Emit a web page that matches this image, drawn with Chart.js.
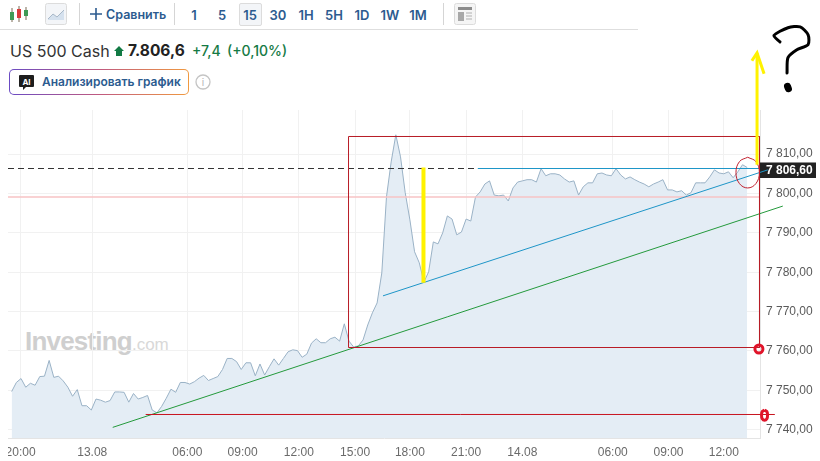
<!DOCTYPE html>
<html><head><meta charset="utf-8">
<script src="https://cdn.jsdelivr.net/npm/chart.js@4"></script>
<style>
html,body{margin:0;padding:0;background:#fff;width:820px;height:461px;overflow:hidden}
body{position:relative;font-family:Inter,"Liberation Sans",sans-serif}
.a{position:absolute;white-space:nowrap}
.t{top:7px;font-size:13px;font-weight:600;color:#2c5b8f;line-height:16px;transform:translateX(-50%)}
.sep{top:3px;width:1px;height:22px;background:#d5d5d5}
canvas{position:absolute;left:8px;top:0}
</style></head><body>
<div class="a" style="left:0;top:29px;width:638px;height:1px;background:#dedede"></div>
<svg class="a" style="left:9px;top:5px" width="20" height="18"><g stroke-width="1"><path d="M3 3v14M10 1v16M17 2v13" stroke="#7a6a55" fill="none"/><rect x="1" y="7" width="4" height="8" fill="#3f9a55"/><rect x="8" y="4" width="4" height="9" fill="#d83a3a"/><rect x="15" y="5" width="4" height="6" fill="#3f9a55"/></g></svg>
<svg class="a" style="left:45px;top:3px" width="22" height="22"><rect x=".5" y=".5" width="21" height="21" rx="2" fill="#f3f5f8" stroke="#dcdcdc"/><path d="M3 16l5-5 4 3 7-7v10H3z" fill="#d5e1ee"/><path d="M3 16l5-5 4 3 7-7" fill="none" stroke="#a8b8c8"/></svg>
<div class="a sep" style="left:79px"></div>
<svg class="a" style="left:90px;top:8px" width="12" height="12"><path d="M6 0v12M0 6h12" stroke="#2c5b8f" stroke-width="1.6"/></svg>
<div class="a" style="left:106px;top:7px;font-size:12.5px;font-weight:600;color:#2c5b8f;line-height:16px">Сравнить</div>
<div class="a sep" style="left:174px"></div>
<div class="a" style="left:239px;top:3px;width:21px;height:21px;background:#f3f5f8;border:1px solid #dcdcdc;border-radius:2px"></div>
<div class="a t" style="left:194px">1</div><div class="a t" style="left:222px">5</div><div class="a t" style="left:250px">15</div><div class="a t" style="left:278px">30</div><div class="a t" style="left:306px">1H</div><div class="a t" style="left:334px">5H</div><div class="a t" style="left:362px">1D</div><div class="a t" style="left:390px">1W</div><div class="a t" style="left:418px">1M</div>
<div class="a sep" style="left:443px"></div>
<svg class="a" style="left:454px;top:3px" width="22" height="22"><rect x=".5" y=".5" width="21" height="21" rx="2" fill="#f5f5f5" stroke="#dcdcdc"/><rect x="4" y="4" width="14" height="3" fill="#8c8c8c"/><rect x="4" y="9" width="6" height="9" fill="#a8a8a8"/><path d="M12 10h6M12 13h6M12 16h6" stroke="#b0b0b0" stroke-width="1.2"/></svg>
<div class="a" style="left:10px;top:41px;font-size:16px;color:#333;line-height:20px">US 500 Cash</div>
<svg class="a" style="left:114px;top:46px" width="10" height="11"><path d="M5 0l5 5H8v5H2V5H0z" fill="#127a44"/></svg>
<div class="a" style="left:128px;top:41px;font-size:15.5px;font-weight:700;color:#222;line-height:20px">7.806,6</div>
<div class="a" style="left:192px;top:42px;font-size:14px;font-weight:500;color:#157a45;line-height:18px">+7,4</div>
<div class="a" style="left:227px;top:42px;font-size:14px;font-weight:500;color:#157a45;line-height:18px">(+0,10%)</div>
<div class="a" style="left:9px;top:69px;width:180px;height:26px;box-sizing:border-box;border:1.5px solid transparent;border-radius:5px;background:linear-gradient(#fff,#fff) padding-box,linear-gradient(90deg,#6a4bc4,#c05a80,#f09a40) border-box"></div>
<svg class="a" style="left:19px;top:75px" width="15" height="17"><path d="M1 0h13a1 1 0 0 1 1 1v10a1 1 0 0 1-1 1H7l-3 3v-3H1a1 1 0 0 1-1-1V1a1 1 0 0 1 1-1z" fill="#1d1d1d"/><text x="7.5" y="9.5" text-anchor="middle" font-size="8" font-weight="700" fill="#fff" font-family="Inter">AI</text></svg>
<div class="a" style="left:42px;top:74px;font-size:12px;font-weight:600;color:#2c5b8f;line-height:16px">Анализировать график</div>
<svg class="a" style="left:195px;top:74px" width="16" height="16"><circle cx="8" cy="8" r="7" fill="none" stroke="#c4c4c4" stroke-width="1.3"/><text x="8" y="12" text-anchor="middle" font-size="10" fill="#b5b5b5" font-family="Inter">i</text></svg>
<div class="a" style="left:25px;top:325px;line-height:32px;color:#cfcfcf;font-family:'Liberation Sans';font-size:26px;font-weight:700;letter-spacing:-.8px">Investing<span style="font-size:17px;font-weight:400;letter-spacing:0;color:#d8d8d8">.com</span></div>
<canvas id="c" width="812" height="461"></canvas>
<script>
const seriesValues=[7749.7,7752.0,7753.0,7750.8,7751.8,7751.3,7753.5,7753.6,7757.6,7753.3,7753.6,7752.4,7750.8,7748.5,7750.2,7746.1,7746.1,7745.0,7747.8,7747.5,7747.0,7747.4,7749.6,7749.6,7749.5,7747.0,7749.2,7747.8,7748.2,7748.7,
7745.0,7744.3,7745.9,7748.0,7750.3,7749.5,7752.0,7752.0,7751.6,7752.2,7753.1,7753.8,7752.5,7753.0,7753.5,7755.3,7758.1,7758.1,7757.3,7755.3,7757.0,7757.0,7753.7,7756.7,7753.9,7756.0,7758.0,7756.4,7758.1,7759.8,
7760.3,7760.1,7758.4,7759.2,7762.0,7763.1,7762.1,7762.1,7763.1,7763.5,7762.5,7766.9,7762.5,7761.0,7761.3,7762.8,7766.6,7769.7,7772.2,7779.8,
7799.1,7808.0,7814.9,7809.3,7800.2,7793.3,7785.2,7782.4,7777.5,7780.1,7787.7,7787.2,7790.0,7794.3,7793.5,7789.5,7790.2,7793.5,7793.0,7799.1,
7800.4,7802.4,7803.2,7799.6,7799.4,7799.6,7798.1,7801.4,7802.9,7803.2,7803.5,7803.5,7802.9,7806.3,7804.5,7805.0,7805.0,7804.7,7803.7,7802.9,
7803.2,7799.6,7801.7,7802.7,7802.7,7805.0,7805.2,7804.7,7804.5,7806.3,7804.7,7803.7,7804.2,7803.5,7802.9,7802.4,7801.7,7802.4,7802.9,7803.5,
7800.9,7800.9,7800.4,7800.7,7799.6,7800.2,7802.7,7802.7,7802.7,7804.2,7806.0,7805.2,7805.0,7805.5,7804.0,7805.5,7807.3,7806.6];
const xTickPositions=[1.9,17.2,37.5,49.3,61.3,73.3,85,97,109,128.3,140.2,152];
const xTickLabels=["20:00","13.08","06:00","09:00","12:00","15:00","18:00","21:00","14.08","06:00","09:00","12:00"];
const yTickValues=[7740,7750,7760,7770,7780,7790,7800,7810];
const yTickLabels=["7 740,00","7 750,00","7 760,00","7 770,00","7 780,00","7 790,00","7 800,00","7 810,00"];
const lastPriceValue=7806.6, lastPriceLabel="7 806,60";
const xMin=-0.783, xMax=159.73, yMin=7737.9, yMax=7821.2;

const redBox=[[71.9,7814.47],[159.62,7814.47],[159.62,7760.88],[71.9,7760.88],[71.9,7814.47]];
const redLow=[[28.6,7743.87],[162.9,7743.87]];
const greenTrend=[[21.57,7740.6],[164.6,7796.8]];
const blueTrend=[[79.26,7774],[161.4,7806]];
const blueLevel=[[99.5,7806.34],[159.7,7806.34]];
const dashedLevel=[[xMin,7806.34],[99.5,7806.34]];
const pinkLevel=[[xMin,7799.1],[xMax,7799.1]];
const yellowDrop=[[87.9,7806.6],[87.9,7777.3]];
const yellowShaft=[[159.1,7807.3],[159.1,7835.7]];
const yellowHead=[[158,7833.7],[159.1,7835.7],[160.6,7830.4]];
const questionCurve=[[164,7838.5],[162.7,7840.1],[165.7,7842.1],[168.3,7842.3],[170,7840.3],[170,7837.8],[167.6,7836.5],[165.7,7834.5],[165.5,7830.6]];
const questionDot=[[165.6,7827.2],[165.8,7826.6]];
const lastEllipse=[[157.1,7809.2],[158.85,7808.1],[159.6,7805.3],[158.85,7802.5],[157.1,7801.4],[155.35,7802.5],[154.6,7805.3],[155.35,7808.1],[157.1,7809.2]];
const lowOval=[[160.7,7745],[161.2,7744.6],[161.34,7743.7],[161.2,7742.8],[160.7,7742.4],[160.2,7742.8],[160.06,7743.7],[160.2,7744.6],[160.7,7745]];
const midCircle=[[159.5,7760.5]];

const pts=a=>a.map(p=>({x:p[0],y:p[1]}));
const ln=(a,color,w,extra)=>Object.assign({type:'line',data:pts(a),borderColor:color,backgroundColor:'transparent',borderWidth:w,pointRadius:0,tension:0,clip:false,fill:false},extra||{});

const lastLabel={id:'lastLabel',beforeDatasetsDraw(ch){
  const y=ch.scales.y, g=ch.ctx, py=y.getPixelForValue(lastPriceValue)+3;
  g.save();g.fillStyle='#222';g.fillRect(y.left,py-8,56,15.5);
  g.fillStyle='#fff';g.font='bold 12px "Liberation Sans"';g.textBaseline='middle';g.textAlign='left';
  g.fillText(lastPriceLabel,y.left+6,py);g.restore();
}};

new Chart(document.getElementById('c'),{
  type:'line',
  data:{datasets:[
    ln(questionCurve,'#000',3,{tension:.25,borderCapStyle:'round',borderJoinStyle:'round'}),
    ln(questionDot,'#000',7,{borderCapStyle:'round'}),
    ln(yellowHead,'#fff200',3),
    ln(yellowShaft,'#fff200',3),
    ln(yellowDrop,'#fff200',4),
    ln(lastEllipse,'#c0202e',1,{tension:.4}),
    ln(lowOval,'#e0142a',3,{tension:.4}),
    {type:'line',data:pts(midCircle),showLine:false,pointRadius:4,pointBackgroundColor:'transparent',pointBorderColor:'#e0142a',pointBorderWidth:3,clip:false},
    ln(redLow,'#c8141f',1),
    ln(redBox,'#b81c26',1),
    ln(blueTrend,'#1e96c8',1),
    ln(greenTrend,'#249a3c',1),
    ln(blueLevel,'#1e96c8',1),
    ln(dashedLevel,'#333',1,{borderDash:[6,4]}),
    ln(pinkLevel,'#f7c3c5',1.6),
    {type:'line',data:seriesValues.map((v,i)=>({x:i,y:v})),borderColor:'#9ab2c6',backgroundColor:'#e4edf5',borderWidth:1,pointRadius:0,tension:0,fill:'start'}
  ]},
  options:{
    responsive:false,animation:false,devicePixelRatio:1,
    layout:{autoPadding:false,padding:{top:110,left:0,right:0,bottom:0}},
    plugins:{legend:{display:false},tooltip:{enabled:false}},
    scales:{
      x:{type:'linear',min:xMin,max:xMax,
        grid:{color:'#f1f1f1',drawTicks:false},border:{color:'#e4e4e4'},
        ticks:{autoSkip:false,maxRotation:0,padding:7,color:'#6a6a6a',font:{family:'"Liberation Sans"',size:12},
          callback:v=>xTickLabels[xTickPositions.indexOf(v)]},
        afterBuildTicks:s=>{s.ticks=xTickPositions.map(v=>({value:v}));},
        afterFit:s=>{s.height=23;s.paddingLeft=0;s.paddingRight=0;}},
      y:{position:'right',min:yMin,max:yMax,
        grid:{color:'#f1f1f1',drawTicks:false},border:{color:'#e4e4e4'},
        ticks:{padding:6,color:'#5a5a5a',font:{family:'"Liberation Sans"',size:12},
          callback:v=>yTickLabels[yTickValues.indexOf(v)]},
        afterBuildTicks:s=>{s.ticks=yTickValues.map(v=>({value:v}));},
        afterFit:s=>{s.width=60;s.paddingTop=0;s.paddingBottom=0;}}
    }
  },
  plugins:[lastLabel]
});
</script>
</body></html>
